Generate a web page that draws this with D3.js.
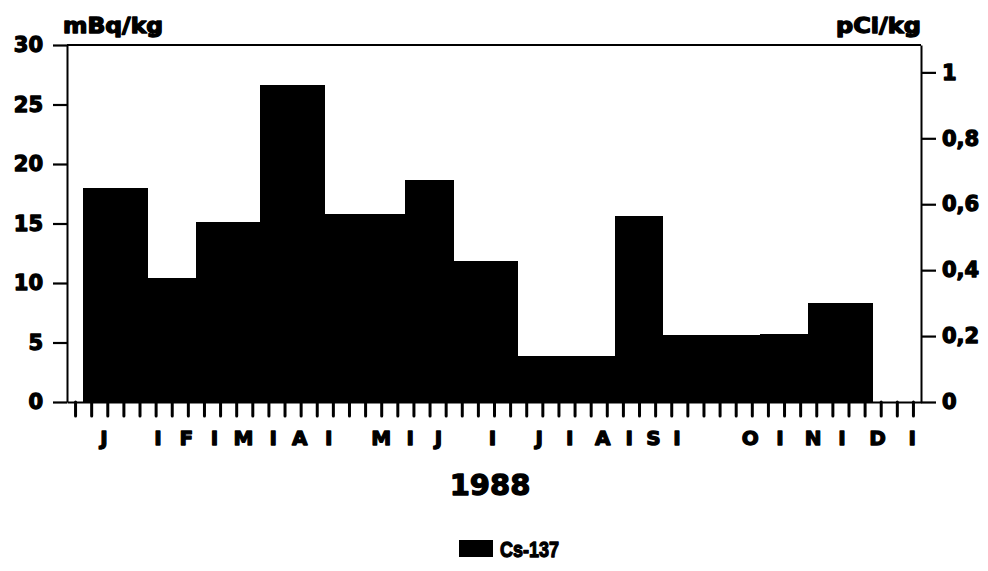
<!DOCTYPE html>
<html>
<head>
<meta charset="utf-8">
<script src="https://cdn.jsdelivr.net/npm/d3@7"></script>
<style>
  body { margin: 0; background: #fff; }
  svg text { font-family: "DejaVu Sans", sans-serif; font-weight: bold; fill: #000; stroke: #000; stroke-width: 1.3px; stroke-linejoin: round; }
  svg text.narrow { font-family: "Liberation Sans Narrow", "Liberation Sans", sans-serif; }
</style>
</head>
<body>
<div id="chart"></div>
<script>
// sampling periods in weeks of 1988 and Cs-137 activity (mBq/kg)
const periodStart = [1, 5, 8, 12, 16, 21, 24, 28, 34, 37, 43, 46];
const periodEnd   = [5, 8, 12, 16, 21, 24, 28, 34, 37, 43, 46, 50];
const cs137       = [18.0, 10.4, 15.1, 26.6, 15.8, 18.65, 11.85, 3.9, 15.6, 5.6, 5.75, 8.35];

const leftTicks  = [0, 5, 10, 15, 20, 25, 30];
const rightTicks = [0, 0.2, 0.4, 0.6, 0.8, 1];

// month letters and separators, positions in weeks
const monthLabels = ['J','I','F','I','M','I','A','I','M','I','J','I','J','I','A','I','S','I','O','I','N','I','D','I'];
const monthPos    = [2.3, 5.65, 7.4, 9.15, 10.95, 12.8, 14.45, 16.25, 19.5, 21.3, 23.05, 26.4,
                     29.3, 31.2, 33.25, 34.9, 36.4, 37.85, 42.4, 44.25, 46.3, 48.1, 50.3, 52.45];

const weekCount = 53;
const mBqPerPCi = 27.7;

const width = 988, height = 571;

const svg = d3.select('#chart').append('svg')
  .attr('width', width)
  .attr('height', height);

svg.append('rect').attr('width', width).attr('height', height).attr('fill', '#fff').attr('stroke', 'none');

const x = d3.scaleLinear().domain([0, weekCount]).range([67, 921]);
const y = d3.scaleLinear().domain([0, 30]).range([402, 45]);
const yR = d3.scaleLinear().domain([0, 30 / mBqPerPCi]).range([402, 45]);

const bars = periodStart.map((s, i) => ({ start: s, end: periodEnd[i], value: cs137[i] }));

svg.append('g')
  .selectAll('rect')
  .data(bars)
  .enter().append('rect')
  .attr('x', d => x(d.start))
  .attr('y', d => y(d.value))
  .attr('width', d => x(d.end) - x(d.start))
  .attr('height', d => y(0) - y(d.value))
  .attr('fill', '#000')
  .attr('shape-rendering', 'crispEdges');

// frame top
svg.append('line')
  .attr('x1', x(0)).attr('x2', x(weekCount))
  .attr('y1', y(30)).attr('y2', y(30))
  .attr('stroke', '#000').attr('stroke-width', 2);

function styleAxis(g) {
  g.selectAll('path.domain').attr('stroke', '#000').attr('stroke-width', 2);
  g.selectAll('.tick line').attr('stroke', '#000').attr('stroke-width', 2.2);
  g.selectAll('.tick text').attr('font-family', null).attr('font-size', null);
}

const leftAxis = svg.append('g')
  .attr('transform', 'translate(' + x(0) + ',0)')
  .call(d3.axisLeft(y).tickValues(leftTicks).tickSize(14).tickSizeOuter(0).tickPadding(10));
styleAxis(leftAxis);
leftAxis.selectAll('.tick text').style('font-size', '21px');

const rightAxis = svg.append('g')
  .attr('transform', 'translate(' + x(weekCount) + ',0)')
  .call(d3.axisRight(yR).tickValues(rightTicks).tickSize(15).tickSizeOuter(0).tickPadding(6)
    .tickFormat(d => d === 0 ? '0' : d === 1 ? '1' : d3.format('.1f')(d).replace('.', ',')));
styleAxis(rightAxis);
rightAxis.selectAll('.tick text').style('font-size', '21px');

const weekTicks = d3.range(weekCount).map(k => k + 0.5);
const bottomAxis = svg.append('g')
  .attr('transform', 'translate(0,' + y(0) + ')')
  .call(d3.axisBottom(x).tickValues(weekTicks).tickSize(14).tickSizeOuter(0).tickFormat(''));
styleAxis(bottomAxis);
bottomAxis.selectAll('.tick line').attr('stroke-width', 3).attr('stroke-linecap', 'round');

// month letters
svg.append('g')
  .selectAll('text')
  .data(monthLabels)
  .enter().append('text')
  .attr('x', (d, i) => x(monthPos[i]))
  .attr('y', 445)
  .attr('text-anchor', 'middle')
  .style('font-size', '20px')
  .text(d => d);

// units
svg.append('text')
  .attr('x', 63).attr('y', 33)
  .attr('textLength', 100).attr('lengthAdjust', 'spacingAndGlyphs')
  .style('font-size', '21px')
  .text('mBq/kg');

svg.append('text')
  .attr('x', 836).attr('y', 33)
  .attr('textLength', 85).attr('lengthAdjust', 'spacingAndGlyphs')
  .style('font-size', '21px')
  .text('pCi/kg');

// year
svg.append('text')
  .attr('x', (x(0) + x(weekCount)) / 2 - 4).attr('y', 495)
  .attr('text-anchor', 'middle')
  .style('font-size', '29px')
  .text('1988');

// legend
const legend = svg.append('g').attr('transform', 'translate(459,540)');
legend.append('rect').attr('width', 34).attr('height', 17).attr('fill', '#000');
legend.append('text').attr('class', 'narrow').attr('x', 41).attr('y', 17)
  .attr('textLength', 59).attr('lengthAdjust', 'spacingAndGlyphs')
  .style('font-size', '22px').text('Cs-137');
</script>
</body>
</html>
